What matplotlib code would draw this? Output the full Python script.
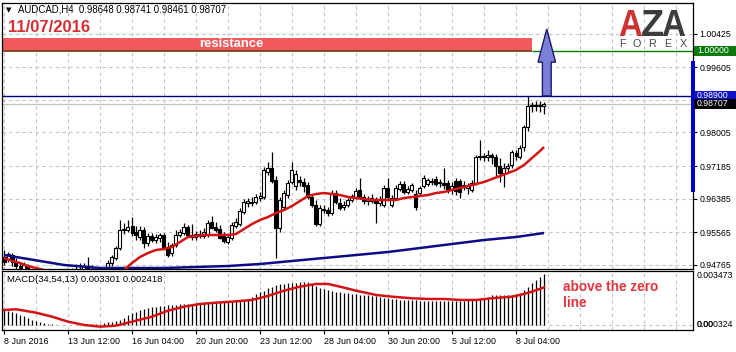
"""AUDCAD H4 candlestick chart with MACD, redrawn in the MetaTrader style."""

import matplotlib

matplotlib.use("Agg")
import matplotlib.pyplot as plt
import numpy as np
from matplotlib.font_manager import FontProperties
from matplotlib.patches import FancyArrow, PathPatch, Rectangle
from matplotlib.path import Path
from matplotlib.textpath import TextPath
from matplotlib.transforms import blended_transform_factory

# --- candles (H4 bars, oldest first) -------------------------------------
opens = [
    0.94960, 0.94912, 0.95009, 0.94838, 0.94740, 0.94643, 0.94740, 0.94496, 0.94349, 0.94251,
    0.94349, 0.94423, 0.94300, 0.94202, 0.94276, 0.94374, 0.94447, 0.94520, 0.94594, 0.94667,
    0.94569, 0.94740, 0.94643, 0.94496, 0.94423, 0.94545, 0.94643, 0.94814, 0.94936, 0.95180,
    0.95621, 0.95621, 0.95718, 0.95572, 0.95449, 0.95621, 0.95303, 0.95474, 0.95376, 0.95425,
    0.95498, 0.95205, 0.95058, 0.95254, 0.95498, 0.95547, 0.95694, 0.95498, 0.95449, 0.95523,
    0.95474, 0.95498, 0.95816, 0.95694, 0.95645, 0.95474, 0.95327, 0.95425, 0.95718, 0.95767,
    0.96061, 0.96281, 0.96305, 0.96305, 0.96403, 0.96427, 0.97039, 0.97136, 0.96843, 0.95669,
    0.96183, 0.96476, 0.96794, 0.96696, 0.96843, 0.96794, 0.96721, 0.96427, 0.96232, 0.95767,
    0.96134, 0.96110, 0.96036, 0.96525, 0.96281, 0.96183, 0.96232, 0.96354, 0.96427, 0.96599,
    0.96427, 0.96330, 0.96403, 0.96330, 0.96281, 0.96232, 0.96647, 0.96232, 0.96403, 0.96623,
    0.96745, 0.96550, 0.96599, 0.96501, 0.96525, 0.96696, 0.96745, 0.96819, 0.96868, 0.96770,
    0.96770, 0.96770, 0.96623, 0.96819, 0.96819, 0.96721, 0.96647, 0.96599, 0.96770, 0.97405,
    0.97430, 0.97405, 0.97454, 0.97405, 0.97185, 0.97014, 0.97136, 0.97210, 0.97503, 0.97405,
    0.97650, 0.98139, 0.98652, 0.98677, 0.98652, 0.98648,
]
highs = [
    0.95132, 0.95083, 0.95058, 0.94936, 0.94838, 0.94838, 0.94789, 0.94594, 0.94496, 0.94398,
    0.94496, 0.94594, 0.94447, 0.94374, 0.94447, 0.94545, 0.94643, 0.94691, 0.94789, 0.94814,
    0.94814, 0.94960, 0.94765, 0.94643, 0.94594, 0.94691, 0.94887, 0.95009, 0.95229, 0.95865,
    0.95792, 0.95865, 0.95938, 0.95718, 0.95718, 0.95694, 0.95547, 0.95547, 0.95523, 0.95547,
    0.95547, 0.95327, 0.95303, 0.95621, 0.95645, 0.95792, 0.95743, 0.95767, 0.95596, 0.95621,
    0.95669, 0.95865, 0.95963, 0.95816, 0.95743, 0.95572, 0.95498, 0.95816, 0.95914, 0.96158,
    0.96379, 0.96403, 0.96427, 0.96501, 0.96550, 0.97161, 0.97283, 0.97528, 0.96941, 0.96427,
    0.96599, 0.96843, 0.97283, 0.97088, 0.96941, 0.96892, 0.96794, 0.96476, 0.96354, 0.96232,
    0.96232, 0.96183, 0.96599, 0.96599, 0.96403, 0.96330, 0.96403, 0.96501, 0.96647, 0.96892,
    0.96501, 0.96452, 0.96501, 0.96427, 0.96452, 0.96721, 0.96892, 0.96476, 0.96721, 0.96819,
    0.96819, 0.96696, 0.96770, 0.96599, 0.96696, 0.96965, 0.96892, 0.96892, 0.96941, 0.96868,
    0.97136, 0.96843, 0.96794, 0.96892, 0.96868, 0.96819, 0.96770, 0.96843, 0.97454, 0.97821,
    0.97503, 0.97577, 0.97503, 0.97479, 0.97381, 0.97259, 0.97259, 0.97577, 0.97577, 0.97699,
    0.98188, 0.98897, 0.98750, 0.98775, 0.98775, 0.98741,
]
lows = [
    0.94765, 0.94838, 0.94740, 0.94643, 0.94520, 0.94496, 0.94398, 0.94276, 0.94154, 0.94105,
    0.94202, 0.94251, 0.94105, 0.94056, 0.94154, 0.94251, 0.94300, 0.94349, 0.94447, 0.94496,
    0.94447, 0.94594, 0.94398, 0.94300, 0.94276, 0.94398, 0.94569, 0.94740, 0.94887, 0.95132,
    0.95523, 0.95572, 0.95474, 0.95376, 0.95376, 0.95180, 0.95229, 0.95327, 0.95303, 0.95327,
    0.95132, 0.94960, 0.94985, 0.95205, 0.95449, 0.95498, 0.95449, 0.95376, 0.95376, 0.95425,
    0.95425, 0.95449, 0.95645, 0.95572, 0.95401, 0.95303, 0.95278, 0.95376, 0.95669, 0.95718,
    0.96012, 0.96183, 0.96207, 0.96256, 0.96330, 0.96379, 0.96965, 0.96770, 0.94936, 0.95572,
    0.96110, 0.96403, 0.96745, 0.96599, 0.96696, 0.96550, 0.96379, 0.96183, 0.95718, 0.95718,
    0.96036, 0.95963, 0.95987, 0.96256, 0.96110, 0.96110, 0.96183, 0.96305, 0.96379, 0.96379,
    0.96256, 0.96232, 0.96281, 0.95792, 0.96207, 0.96183, 0.96379, 0.96183, 0.96354, 0.96574,
    0.96501, 0.96501, 0.96550, 0.96110, 0.96452, 0.96647, 0.96696, 0.96721, 0.96696, 0.96672,
    0.96623, 0.96525, 0.96501, 0.96476, 0.96403, 0.96599, 0.96501, 0.96550, 0.96721, 0.97332,
    0.97308, 0.97308, 0.97234, 0.96916, 0.96794, 0.96672, 0.97039, 0.97136, 0.97332, 0.97356,
    0.97552, 0.98041, 0.98506, 0.98530, 0.98506, 0.98461,
]
closes = [
    0.94838, 0.95034, 0.94838, 0.94740, 0.94594, 0.94765, 0.94496, 0.94349, 0.94251, 0.94349,
    0.94423, 0.94300, 0.94202, 0.94276, 0.94374, 0.94447, 0.94520, 0.94594, 0.94667, 0.94569,
    0.94740, 0.94643, 0.94496, 0.94423, 0.94545, 0.94618, 0.94814, 0.94960, 0.95180, 0.95621,
    0.95645, 0.95694, 0.95547, 0.95498, 0.95621, 0.95303, 0.95474, 0.95376, 0.95449, 0.95498,
    0.95180, 0.95009, 0.95254, 0.95498, 0.95572, 0.95694, 0.95498, 0.95449, 0.95523, 0.95474,
    0.95572, 0.95792, 0.95669, 0.95621, 0.95425, 0.95352, 0.95449, 0.95743, 0.95816, 0.96085,
    0.96305, 0.96330, 0.96281, 0.96427, 0.96452, 0.97088, 0.97136, 0.96819, 0.95669, 0.96354,
    0.96525, 0.96770, 0.97088, 0.96990, 0.96794, 0.96696, 0.96427, 0.96232, 0.95767, 0.96158,
    0.96110, 0.96036, 0.96525, 0.96305, 0.96158, 0.96232, 0.96354, 0.96452, 0.96574, 0.96427,
    0.96330, 0.96379, 0.96330, 0.96281, 0.96379, 0.96647, 0.96427, 0.96403, 0.96647, 0.96745,
    0.96550, 0.96623, 0.96721, 0.96183, 0.96647, 0.96892, 0.96843, 0.96794, 0.96745, 0.96794,
    0.96721, 0.96599, 0.96696, 0.96574, 0.96550, 0.96672, 0.96696, 0.96770, 0.97405, 0.97430,
    0.97405, 0.97454, 0.97405, 0.97185, 0.97014, 0.97136, 0.97185, 0.97528, 0.97430, 0.97625,
    0.98139, 0.98652, 0.98677, 0.98652, 0.98677, 0.98707,
]

# --- moving averages, read at selected bars -------------------------------
ma_fast_idx = [0, 2, 4, 6, 8, 10, 13, 16, 19, 22, 25, 28] + list(range(30, 135, 2)) + [135]
ma_fast = [
    0.94936, 0.94863, 0.94814, 0.94740, 0.94691, 0.94643, 0.94569, 0.94520, 0.94496, 0.94496,
    0.94520, 0.94594, 0.94643, 0.94814, 0.94960, 0.95058, 0.95132, 0.95156, 0.95205, 0.95327,
    0.95449, 0.95474, 0.95498, 0.95498, 0.95498, 0.95498, 0.95523, 0.95645, 0.95767, 0.95865,
    0.95938, 0.96036, 0.96110, 0.96207, 0.96330, 0.96452, 0.96501, 0.96525, 0.96501, 0.96476,
    0.96427, 0.96403, 0.96379, 0.96354, 0.96354, 0.96354, 0.96354, 0.96403, 0.96427, 0.96452,
    0.96476, 0.96525, 0.96550, 0.96599, 0.96647, 0.96696, 0.96745, 0.96794, 0.96868, 0.96941,
    0.97014, 0.97088, 0.97210, 0.97381, 0.97552, 0.97650,
]
ma_slow_idx = [0, 3, 6, 9, 12, 15, 18, 21, 24, 32, 40, 48, 56, 64, 72, 80, 88, 96, 104, 112,
               120, 128, 135]
ma_slow = [
    0.95009, 0.94960, 0.94912, 0.94863, 0.94814, 0.94765, 0.94740, 0.94716, 0.94691, 0.94691,
    0.94691, 0.94716, 0.94740, 0.94789, 0.94863, 0.94936, 0.95009, 0.95083, 0.95180, 0.95278,
    0.95376, 0.95449, 0.95547,
]

# --- MACD(34,54,13) -------------------------------------------------------
macd_main = [
    0.000965, 0.000869, 0.000805, 0.000740, 0.000644, 0.000547, 0.000451, 0.000322, 0.000225, 0.000161,
    0.000097, 0.000064, 0.000030, 0.000020, 0.000010, 0.000010, -0.000010, -0.000020, -0.000020, -0.000010,
    0.000010, 0.000020, 0.000030, 0.000040, 0.000064, 0.000129, 0.000161, 0.000193, 0.000257, 0.000290,
    0.000451, 0.000644, 0.000792, 0.000856, 0.000965, 0.001030, 0.001075, 0.001126, 0.001178, 0.001204,
    0.001223, 0.001255, 0.001287, 0.001300, 0.001319, 0.001332, 0.001352, 0.001364, 0.001384, 0.001397,
    0.001403, 0.001416, 0.001429, 0.001435, 0.001448, 0.001467, 0.001480, 0.001500, 0.001512, 0.001545,
    0.001609, 0.001654, 0.001802, 0.001995, 0.002092, 0.002188, 0.002362, 0.002446, 0.002542, 0.002607,
    0.002652, 0.002684, 0.002703, 0.002729, 0.002748, 0.002748, 0.002748, 0.002607, 0.002510, 0.002381,
    0.002317, 0.002253, 0.002169, 0.002124, 0.002092, 0.002060, 0.002040, 0.001995, 0.001976, 0.001957,
    0.001931, 0.001899, 0.001866, 0.001834, 0.001802, 0.001757, 0.001718, 0.001686, 0.001654, 0.001635,
    0.001622, 0.001609, 0.001590, 0.001577, 0.001570, 0.001564, 0.001564, 0.001564, 0.001564, 0.001564,
    0.001564, 0.001557, 0.001557, 0.001557, 0.001564, 0.001570, 0.001577, 0.001590, 0.001609, 0.001673,
    0.001738, 0.001821, 0.001899, 0.001931, 0.001931, 0.001918, 0.001918, 0.001931, 0.001963, 0.002027,
    0.002253, 0.002446, 0.002671, 0.002864, 0.003057, 0.003301,
]
signal_idx = [0, 3, 8, 12, 16, 20, 24, 28, 32, 37, 41, 45, 49, 53, 57, 62, 66, 70, 74, 78, 81,
              84, 88, 93, 97, 102, 106, 110, 114, 118, 122, 127, 129, 132, 135]
signal = [
    0.000965, 0.001010, 0.000792, 0.000534, 0.000212, 0.0, -0.000109, -0.000045, 0.000212, 0.000534,
    0.000920, 0.001178, 0.001352, 0.001435, 0.001500, 0.001609, 0.001866, 0.002208, 0.002465, 0.002639,
    0.002639, 0.002465, 0.002208, 0.001931, 0.001821, 0.001718, 0.001673, 0.001673, 0.001609, 0.001609,
    0.001718, 0.001821, 0.001931, 0.002143, 0.002418,
]

# --- axis labels and levels ----------------------------------------------
date_tick_idx = [0, 16, 32, 48, 64, 80, 96, 112, 128]
date_labels = ["8 Jun 2016", "13 Jun 12:00", "16 Jun 04:00", "20 Jun 20:00", "23 Jun 12:00",
               "28 Jun 04:00", "30 Jun 20:00", "5 Jul 12:00", "8 Jul 04:00"]
price_ticks = [1.00425, 0.99605, 0.98005, 0.97185, 0.96385, 0.95565, 0.94765]
price_grid = [1.00425, 0.99605, 0.98805, 0.98005, 0.97185, 0.96385, 0.95565, 0.94765]
resistance_level = 1.00000
resistance_top = 1.00315
resistance_end = 132
support_level = 0.98900
bid_price = 0.98707
macd_range = (-0.000324, 0.003473)

W, H = 736, 352
FONT = ["Liberation Sans", "DejaVu Sans"]
GRID = dict(color="#c4c4c4", lw=0.8, ls=(0, (3, 3)), zorder=0)


def fx(px):
    return px / W


def fy(px):
    return 1 - px / H


def draw_candles(ax):
    o, h, l, c = (np.array(v) for v in (opens, highs, lows, closes))
    idx = np.arange(len(c))
    up = c >= o
    lo = np.minimum(o, c)
    size = np.abs(c - o)
    ax.vlines(idx, l, h, color="black", lw=0.9, zorder=3)
    ax.bar(idx[up], size[up], bottom=lo[up], width=0.75, facecolor="white",
           edgecolor="black", lw=0.8, zorder=4)
    ax.bar(idx[~up], size[~up], bottom=lo[~up], width=0.75, facecolor="black",
           edgecolor="black", lw=0.8, zorder=4)


def price_box(fig, ax, price, text, color):
    trans = blended_transform_factory(fig.transFigure, ax.transData)
    half = 5 * (ax.get_ylim()[1] - ax.get_ylim()[0]) / 266
    ax.add_patch(Rectangle((fx(694), price - half), fx(W - 694), 2 * half, transform=trans,
                           facecolor=color, edgecolor="none", clip_on=False, zorder=10))
    ax.text(fx(697), price, text, transform=trans, color="white", fontsize=6.3,
            va="center", ha="left", zorder=11, clip_on=False)


def logo_glyph(fig, s, x0, y0, x1, y1, color):
    tp = TextPath((0, 0), s, size=100, prop=FontProperties(family="Liberation Sans", weight="bold"))
    verts = tp.vertices.copy()
    bx0, by0 = verts.min(axis=0)
    bx1, by1 = verts.max(axis=0)
    verts[:, 0] = fx(x0 + (verts[:, 0] - bx0) / (bx1 - bx0) * (x1 - x0))
    verts[:, 1] = fy(y1 - (verts[:, 1] - by0) / (by1 - by0) * (y1 - y0))
    fig.add_artist(PathPatch(Path(verts, tp.codes), transform=fig.transFigure,
                             facecolor=color, edgecolor="none"))


def main():
    plt.rcParams["font.family"] = FONT
    fig = plt.figure(figsize=(W / 100, H / 100), dpi=100)
    ax = fig.add_axes([fx(2), fy(269), fx(691), 266 / H])
    axm = fig.add_axes([fx(2), fy(330), fx(691), 59 / H])
    xlim = (-0.5, 172.25)

    # main price panel
    ax.set_xlim(*xlim)
    ax.set_ylim(0.94667, 1.01171)
    for i in range(0, 173, 8):
        ax.axvline(i, **GRID)
        axm.axvline(i, **GRID)
    for p in price_grid:
        ax.axhline(p, **GRID)

    ax.add_patch(Rectangle((xlim[0], resistance_level), resistance_end - xlim[0],
                           resistance_top - resistance_level, facecolor="#f15a5d",
                           edgecolor="none", zorder=1))
    ax.hlines(resistance_level, xlim[0], resistance_end, color="#6e3a12", lw=1.2, zorder=2)
    ax.hlines(resistance_level, resistance_end, xlim[1], color="#008000", lw=1.0, zorder=2)
    ax.text(56.75, (resistance_level + resistance_top) / 2, "resistance", color="white",
            fontsize=9.4, fontweight="bold", ha="center", va="center", zorder=3)
    ax.axhline(support_level, color="#000080", lw=1.0, zorder=2)
    ax.axhline(bid_price, color="#c0c0c0", lw=0.9, zorder=1)

    ax.plot(ma_slow_idx, ma_slow, color="#0c0c8a", lw=1.8, zorder=5, solid_capstyle="butt")
    ax.plot(ma_fast_idx, ma_fast, color="#d41414", lw=1.8, zorder=5, solid_capstyle="butt")
    draw_candles(ax)

    ax.add_patch(FancyArrow(135.7, support_level, 0, 1.00535 - support_level, width=2.2,
                            head_width=4.4, head_length=0.0081, length_includes_head=True,
                            facecolor="#7b7fda", edgecolor="#1c1c66", lw=1.0, zorder=6))

    ax.yaxis.tick_right()
    ax.set_yticks(price_ticks)
    ax.set_yticklabels([f"{p:.5f}" for p in price_ticks])
    ax.tick_params(axis="y", direction="out", length=3, width=0.8, pad=1.5, labelsize=6.3)
    ax.tick_params(axis="x", bottom=False, labelbottom=False)
    for sp in ax.spines.values():
        sp.set_linewidth(0.9)

    trans = blended_transform_factory(fig.transFigure, ax.transData)
    ax.add_patch(Rectangle((fx(690.5), 0.96550), fx(4), 0.99753 - 0.96550, transform=trans,
                           facecolor="#0000c8", edgecolor="none", clip_on=False, zorder=9))
    price_box(fig, ax, resistance_level, "1.00000", "#0a7a0a")
    price_box(fig, ax, support_level, "0.98900", "#1010c8")
    price_box(fig, ax, bid_price, "0.98707", "black")

    # MACD panel
    axm.set_xlim(*xlim)
    axm.set_ylim(*macd_range)
    axm.axhline(0, **GRID)
    axm.vlines(np.arange(len(macd_main)), 0, macd_main, color="black", lw=0.9, zorder=3)
    axm.plot(signal_idx, signal, color="#d41414", lw=1.8, zorder=4)
    axm.set_yticks([])
    axm.set_xticks(date_tick_idx)
    axm.set_xticklabels(date_labels, ha="left")
    axm.tick_params(axis="x", direction="out", length=3, width=0.8, pad=2, labelsize=6.4)
    for sp in axm.spines.values():
        sp.set_linewidth(0.9)
    ytr = blended_transform_factory(fig.transFigure, axm.transData)
    axm.text(fx(697), macd_range[1], "0.003473", transform=ytr, fontsize=6.3, va="top")
    # MT4 prints the zero level and the lower bound on top of each other here
    axm.text(fx(697), 0, "0.00", transform=ytr, fontsize=6.3, va="center")
    axm.text(fx(697), 0, "0.000324", transform=ytr, fontsize=6.3, va="center")

    # header texts
    fig.text(fx(6), fy(10), "\u25bc", fontsize=5, va="center", family="DejaVu Sans")
    fig.text(fx(18), fy(10), "AUDCAD,H4  0.98648 0.98741 0.98461 0.98707", fontsize=6.9,
             va="center")
    fig.text(fx(8), fy(27.5), "11/07/2016", color="#d42e32", fontsize=12, fontweight="bold",
             va="center")
    fig.text(fx(7), fy(280), "MACD(34,54,13) 0.003301 0.002418", fontsize=6.8, va="center")
    fig.text(fx(563), fy(287), "above the zero", color="#e0353c", fontsize=9.8,
             fontweight="bold", va="center")
    fig.text(fx(563), fy(303), "line", color="#e0353c", fontsize=9.8, fontweight="bold",
             va="center")

    # logo
    logo_glyph(fig, "A", 619, 10, 642, 36, "#cc3434")
    logo_glyph(fig, "Z", 641, 10, 663, 36, "#3c3c3c")
    logo_glyph(fig, "A", 662, 10, 685, 36, "#3c3c3c")
    for ch, cx in zip("FOREX", [622, 637, 652, 668, 683]):
        fig.text(fx(cx), fy(44), ch, fontsize=7.8, color="#4a4a4a", ha="center", va="center")

    fig.savefig("out.png", dpi=100, facecolor="white")
    plt.close(fig)


if __name__ == "__main__":
    main()
